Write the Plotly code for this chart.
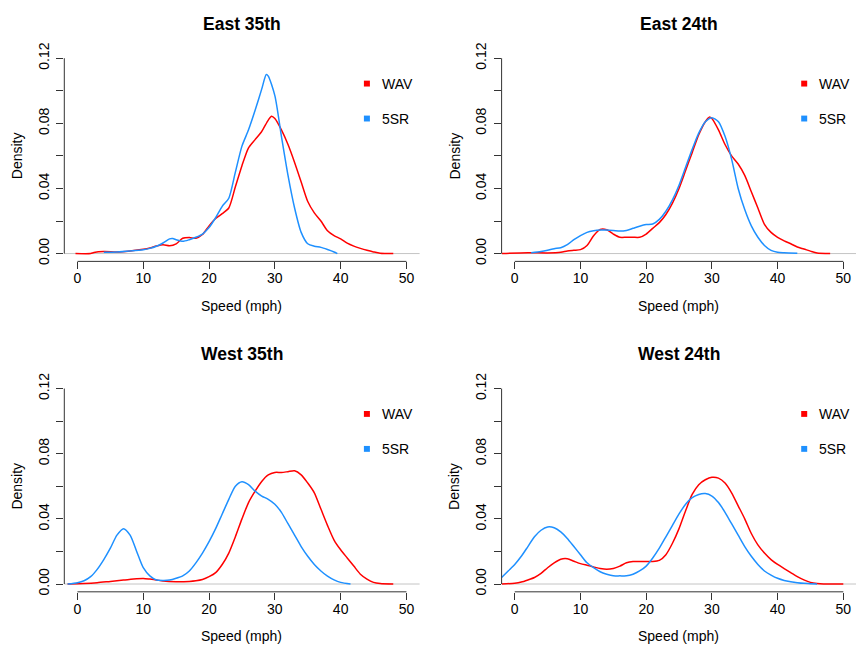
import plotly.graph_objects as go

W, H = 856, 656

titles = ["East 35th", "East 24th", "West 35th", "West 24th"]
series_names = ["WAV", "5SR"]
series_colors = ["#FF0000", "#1E90FF"]

x_ticks = [0, 10, 20, 30, 40, 50]
y_ticks = [0.0, 0.02, 0.04, 0.06, 0.08, 0.10, 0.12]
y_tick_text = ["0.00", "", "0.04", "", "0.08", "", "0.12"]

# ---- East 35th ----
e35_wav_x = [-0.3, 2, 2.5, 4, 6, 8, 10, 11, 12, 13, 14, 15, 16, 17, 18, 19, 20, 21, 22, 23, 24, 25, 26, 27, 28,
             29, 29.5, 30, 31, 32, 33, 34, 35, 36, 37, 38, 39, 40, 41, 42, 43, 44, 45, 46, 48]
e35_wav_y = [0, 0, 0.0006, 0.0012, 0.001, 0.0016, 0.0026, 0.0034, 0.0046, 0.0054, 0.0048, 0.006, 0.0094, 0.0098,
             0.0094, 0.0117, 0.017, 0.0215, 0.0245, 0.028, 0.041, 0.054, 0.065, 0.070, 0.075, 0.082, 0.0844, 0.083,
             0.076, 0.067, 0.056, 0.044, 0.032, 0.025, 0.020, 0.014, 0.011, 0.009, 0.0064, 0.0046, 0.0032, 0.002,
             0.001, 0.0002, 0]
e35_5sr_x = [4, 6, 8, 10, 11, 12, 13, 14, 14.5, 15, 16, 17, 18, 19, 20, 21, 22, 23, 24, 25, 26, 27, 28, 28.7, 29,
             30, 31, 32, 33, 34, 35, 36, 37, 38, 39, 39.5]
e35_5sr_y = [0.0008, 0.001, 0.0016, 0.0024, 0.0032, 0.0045, 0.0065, 0.009, 0.0092, 0.0085, 0.0075, 0.0085, 0.010,
             0.012, 0.016, 0.022, 0.029, 0.034, 0.050, 0.066, 0.076, 0.088, 0.101, 0.110, 0.109, 0.097, 0.072, 0.048,
             0.028, 0.013, 0.006, 0.0045, 0.0038, 0.0025, 0.001, 0]

# ---- East 24th ----
e24_wav_x = [-2, 2, 5, 7, 8, 9, 10, 11, 12, 13, 14, 15, 16, 17, 18, 19, 20, 21, 22, 23, 24, 25, 26, 27, 28, 29,
             29.6, 30, 31, 32, 33, 34, 35, 36, 37, 38, 39, 40, 41, 42, 43, 44, 45, 46, 48]
e24_wav_y = [0, 0.0005, 0.0004, 0.0008, 0.0016, 0.002, 0.0024, 0.005, 0.011, 0.0148, 0.0146, 0.012, 0.010, 0.010,
             0.010, 0.010, 0.012, 0.0155, 0.019, 0.024, 0.031, 0.040, 0.051, 0.062, 0.073, 0.081, 0.0838, 0.083,
             0.076, 0.067, 0.060, 0.055, 0.048, 0.038, 0.028, 0.018, 0.013, 0.010, 0.0078, 0.006, 0.004, 0.0028,
             0.0015, 0.0004, 0]
e24_5sr_x = [2.5, 4, 5, 6, 7, 8, 9, 10, 11, 12, 13, 14, 15, 16, 17, 18, 19, 20, 21, 22, 23, 24, 25, 26, 27, 28,
             29, 30, 31, 32, 33, 34, 35, 36, 37, 38, 39, 40, 41, 43]
e24_5sr_y = [0.0005, 0.0012, 0.002, 0.003, 0.0036, 0.0055, 0.0085, 0.011, 0.013, 0.014, 0.0145, 0.0145, 0.0142,
             0.0138, 0.0142, 0.0155, 0.0168, 0.0178, 0.0182, 0.021, 0.026, 0.033, 0.042, 0.053, 0.064, 0.074, 0.081,
             0.0835, 0.081, 0.072, 0.058, 0.040, 0.027, 0.017, 0.010, 0.005, 0.002, 0.0008, 0.0005, 0.0002]

# ---- West 35th ----
w35_wav_x = [-1.5, 1, 3, 5, 7, 9, 10, 11, 12, 13, 15, 17, 18, 19, 20, 21, 22, 23, 24, 25, 26, 27, 28, 29, 30, 31,
             32, 33, 34, 35, 36, 37, 38, 39, 40, 41, 42, 43, 44, 45, 46, 48]
w35_wav_y = [0, 0.0003, 0.0008, 0.0016, 0.0024, 0.0032, 0.0034, 0.003, 0.0025, 0.0018, 0.0014, 0.0016, 0.002,
             0.0028, 0.0045, 0.007, 0.012, 0.019, 0.029, 0.040, 0.050, 0.057, 0.063, 0.067, 0.0685, 0.0685, 0.069,
             0.0695, 0.067, 0.062, 0.056, 0.046, 0.036, 0.027, 0.021, 0.016, 0.011, 0.006, 0.003, 0.001, 0.0003, 0]
w35_5sr_x = [-1.5, 0, 1, 2, 3, 4, 5, 6, 7, 8, 9, 10, 11, 12, 13, 14, 15, 16, 17, 18, 19, 20, 21, 22, 23, 24, 25,
             26, 27, 28, 29, 30, 31, 32, 33, 34, 35, 36, 37, 38, 39, 40, 41.5]
w35_5sr_y = [0, 0.0008, 0.002, 0.0045, 0.009, 0.015, 0.022, 0.030, 0.034, 0.030, 0.020, 0.010, 0.005, 0.0025,
             0.0022, 0.0024, 0.0035, 0.005, 0.008, 0.013, 0.019, 0.026, 0.034, 0.043, 0.052, 0.060, 0.0628, 0.061,
             0.057, 0.054, 0.052, 0.049, 0.044, 0.037, 0.030, 0.023, 0.017, 0.012, 0.008, 0.0048, 0.0025, 0.001, 0]

# ---- West 24th ----
w24_wav_x = [-2, 0, 1, 2, 3, 4, 5, 6, 7, 8, 9, 10, 11, 12, 13, 14, 15, 16, 17, 18, 19, 20, 21, 22, 23, 24, 25, 26,
             27, 28, 29, 30, 31, 32, 33, 34, 35, 36, 37, 38, 39, 40, 41, 42, 43, 44, 45, 46, 47, 50]
w24_wav_y = [0, 0.0005, 0.0012, 0.0025, 0.004, 0.0065, 0.010, 0.013, 0.0152, 0.0155, 0.014, 0.0125, 0.0115,
             0.0105, 0.0095, 0.009, 0.0095, 0.011, 0.013, 0.0138, 0.0138, 0.0138, 0.0138, 0.0145, 0.018, 0.025,
             0.034, 0.045, 0.055, 0.061, 0.064, 0.0655, 0.065, 0.062, 0.056, 0.048, 0.040, 0.031, 0.024, 0.019,
             0.015, 0.012, 0.0095, 0.007, 0.0045, 0.0025, 0.001, 0.0003, 0, 0]
w24_5sr_x = [-2, -1, 0, 1, 2, 3, 4, 5, 6, 7, 8, 9, 10, 11, 12, 13, 14, 15, 16, 17, 18, 19, 20, 21, 22, 23, 24, 25,
             26, 27, 28, 29, 30, 31, 32, 33, 34, 35, 36, 37, 38, 39, 40, 41, 42, 43, 44, 45, 46]
w24_5sr_y = [0.004, 0.008, 0.012, 0.017, 0.023, 0.029, 0.033, 0.035, 0.0345, 0.032, 0.028, 0.023, 0.018, 0.013,
             0.010, 0.0075, 0.006, 0.005, 0.005, 0.005, 0.006, 0.008, 0.011, 0.016, 0.022, 0.029, 0.036, 0.043,
             0.049, 0.053, 0.055, 0.0555, 0.054, 0.050, 0.044, 0.037, 0.030, 0.023, 0.017, 0.012, 0.008, 0.0055,
             0.0035, 0.0022, 0.0014, 0.0008, 0.0004, 0.0002, 0]

panels = [
    [(e35_wav_x, e35_wav_y), (e35_5sr_x, e35_5sr_y)],
    [(e24_wav_x, e24_wav_y), (e24_5sr_x, e24_5sr_y)],
    [(w35_wav_x, w35_wav_y), (w35_5sr_x, w35_5sr_y)],
    [(w24_wav_x, w24_wav_y), (w24_5sr_x, w24_5sr_y)],
]

# ---- layout geometry (pixels) ----
cols_px = [(64.3, 419.6), (501.6, 856.0)]
rows_px = [(43.2, 258.1), (379.7, 594.7)]
x_ranges = [[-2, 52], [-2, 51.93]]
y_range = [-0.0048, 0.1248]

FONT = "Liberation Sans, Arial, Helvetica, sans-serif"
AXC = "#333333"


def px_x(p):
    return p / W


def px_y(p):
    return 1 - p / H


fig = go.Figure()
annotations = []
shapes = []

for i in range(4):
    r, c = divmod(i, 2)
    n = i + 1
    xa = "xaxis" if n == 1 else f"xaxis{n}"
    ya = "yaxis" if n == 1 else f"yaxis{n}"
    xr = "x" if n == 1 else f"x{n}"
    yr = "y" if n == 1 else f"y{n}"
    left, right = cols_px[c]
    top, bottom = rows_px[r]

    fig.update_layout({
        xa: dict(domain=[px_x(left), px_x(right)], range=x_ranges[c], anchor=yr,
                 showgrid=False, zeroline=False, showline=False,
                 tickvals=x_ticks, ticks="outside", ticklen=7, tickcolor=AXC, tickwidth=1,
                 tickfont=dict(family=FONT, size=14, color="#000"), ticklabelstandoff=-3),
        ya: dict(domain=[px_y(bottom), px_y(top)], range=y_range, anchor=xr,
                 showgrid=False, zeroline=False, showline=False,
                 tickvals=y_ticks, ticktext=y_tick_text, ticks="outside", ticklen=7,
                 tickcolor=AXC, tickwidth=1, tickangle=-90,
                 tickfont=dict(family=FONT, size=14, color="#000"), ticklabelstandoff=2),
    })

    # grey reference line at zero density
    shapes.append(dict(type="line", xref=f"{xr} domain", yref=yr, x0=0, x1=1, y0=0, y1=0,
                       line=dict(color="#c4c4c4", width=1), layer="below"))
    # detached R-style axis lines
    shapes.append(dict(type="line", xref=xr, yref=f"{yr} domain", x0=x_ticks[0], x1=x_ticks[-1],
                       y0=0, y1=0, line=dict(color=AXC, width=1)))
    shapes.append(dict(type="line", xref=f"{xr} domain", yref=yr, x0=0, x1=0,
                       y0=y_ticks[0], y1=y_ticks[-1], line=dict(color=AXC, width=1)))

    for (xs, ys), name, col in zip(panels[i], series_names, series_colors):
        fig.add_trace(go.Scatter(x=xs, y=ys, mode="lines", name=name, showlegend=False,
                                 line=dict(color=col, width=1.5, shape="spline", smoothing=0.7),
                                 xaxis=xr, yaxis=yr))

    cx = (left + right) / 2
    title_y = 16 if r == 0 else 352.3
    annotations.append(dict(text=f"<b>{titles[i]}</b>", xref="paper", yref="paper",
                            x=px_x(cx), y=px_y(title_y), xanchor="center", yanchor="middle",
                            showarrow=False, font=dict(family=FONT, size=17.5, color="#000")))
    annotations.append(dict(text="Speed (mph)", xref="paper", yref="paper",
                            x=px_x(cx), y=px_y(bottom + 45), xanchor="center", yanchor="middle",
                            showarrow=False, font=dict(family=FONT, size=14, color="#000")))
    annotations.append(dict(text="Density", xref="paper", yref="paper", textangle=-90,
                            x=px_x(left - 47), y=px_y((top + bottom) / 2), xanchor="center",
                            yanchor="middle", showarrow=False,
                            font=dict(family=FONT, size=14, color="#000")))

    # legend (R legend, bty="n", pch=15)
    for k, (name, col) in enumerate(zip(series_names, series_colors)):
        sy = top + 33.8 + k * 35.6
        sx = left + 302.6
        shapes.append(dict(type="rect", xref="paper", yref="paper",
                           x0=px_x(sx - 3), x1=px_x(sx + 3), y0=px_y(sy + 3), y1=px_y(sy - 3),
                           fillcolor=col, line=dict(width=0)))
        annotations.append(dict(text=name, xref="paper", yref="paper", x=px_x(left + 315.5),
                                y=px_y(sy), xanchor="left", yanchor="middle", showarrow=False,
                                font=dict(family=FONT, size=14, color="#000")))

fig.update_layout(width=W, height=H, margin=dict(l=0, r=0, t=0, b=0),
                  paper_bgcolor="white", plot_bgcolor="white",
                  annotations=annotations, shapes=shapes, showlegend=False)

fig.write_html("out.html")
